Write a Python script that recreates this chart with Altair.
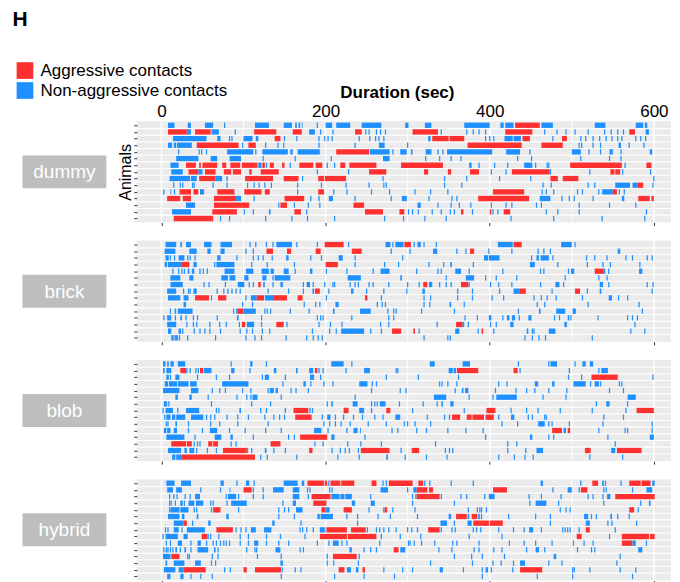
import altair as alt
import pandas as pd

RED = "#FF3030"
BLUE = "#1E90FF"
KIND_NAMES = ["Aggressive contacts", "Non-aggressive contacts"]
KINDS = {"r": KIND_NAMES[0], "b": KIND_NAMES[1]}
PANELS = ["dummy", "brick", "blob", "hybrid"]
X_TICKS = [0, 200, 400, 600]
X_MAJOR = [0, 200, 400, 600]
X_MINOR = [100, 300, 500]

# each string = one animal (top to bottom); token = kind + start-end (sec), single number = brief contact
dummy = [
    "b8-16 b32-36 b53-63 b77 b114-131 b149-159 b163-165 b167-169 b171-172 b190 b200-208 b213-230 b244-268 b297-301 b321-329 b369-400 b413-417 b419-429 r431-461 b463-477 b528-541 b578-587 b589-592",
    "r8-31 b31-36 r41-60 b61-70 b90 r113-140 r160-171 b180-187 b194 b209 r236-244 b249 b253 b262 b267 b273 r306-337 b341 b372 b380 b387 b395 r419-452 b467 b482 b493 b504 b520 b540 b548 b556 b563 r570-577 b590-594",
    "b14-55 b68-72 b83 b86 b100-111 b115-118 r138-145 b150 b165 b192 b199 b203 b208 b241 b254 b261 b265 b271 b325-328 r330-350 r351-369 b395 b400 b405 b418-428 b429-438 r440-449 b477 r488-494 b511 b517 b526 b534 b542 b549 b556 b561 b578 b584 b590",
    "b8-13 b15-18 b19-37 r43-94 b99 r106-115 b127 b142 b149 b192 b236 b265-272 b300 r373-439 r463-489 b509 b512 b526 b535 b557-560 b570 b588",
    "b21 b46 b49 b55 b80-112 b115 b123-154 b157-160 b166-193 r213-253 b254-278 b282 b291-299 b304-306 b322-329 b337 b343 b348-403 b420-437 b449 b500-511 b521 b535 b546-550 b560 b595-598",
    "b18-45 b60-68 b83-97 b124 b163 b207 b270-278 b322 b339 b353 b365 b434 b451 b511 b546 b560",
    "b11-21 r30-42 r46-48 r50-68 r74-79 r84-96 r98-113 r113-117 b118-122 r123-126 b128 r132-137 r147-150 b157 r168-185 r188-196 b202 b211 r218-224 r229-262 r292-343 b375-378 b387 b406 b422 b442-452 b456 b470 b472 r498-561 b565 r591-597",
    "b12-26 r33-45 b45-50 r53-66 r76-85 r87-97 r107-110 r121-143 b190 b228 r253-274 r320-325 r349-353 r376-387 b402 b420 r427-473 b474 b522 r547-552 r553-559 b562 b596",
    "b10-35 b36-43 r46-66 b66-74 b80 r102-136 r149-167 b172 r191-198 r199-225 b270 b345 b372 b412 b450 r474-483 r489-508 b600",
    "b15 b23 b26 b38 b40 b63 b80 b105 b113 b119 b126 b134 b166 b195 b225 b253 b271 b274 b345 b366 b465 b475 b520 b528 b553-571 b574-580 r580-587 b599",
    "b3 b11-12 b16 r22-36 r39-45 b47-52 r68-89 r101-122 r126-132 b166 r191-198 b210 b226 b256 b278 b309 b328 b349 r404-442 b464 b469 b478 b507 b513 b533 b537-550 r550-555 b558 b564",
    "r7-23 r26-36 r64-91 b91-97 b113 r150-174 b182 b192 b204-209 b236 b280 b293-299 b326 b354 b360 r386-448 b461-474 b488 b497 b503 b526 b561-564 r581-595 r597-600",
    "b30-41 r64-98 r98-107 b143 r145-153 b162 b179 b193 r234-247 b312-316 b337 b353 b363 b377 b402 b420 b427 b457 b463 b509 b546 b578",
    "b13-36 r62-92 b101 b112 b131-133 r162-170 b177 r248-270 r290-296 b301 b306 b313 b330 b341 b352 b357 r365-368 b379 r400-402 b404 b410 r417-425 b469 b483 b509 b591",
    "r15-63 b72 b83 b127 b159 b178 b211 b272 b295 b321 b347 b426 b478 b537 b589",
]
brick = [
    "b5-18 b23-25 b30-36 b52-61 b72-86 b108 b115 b128 b136 b140-159 b165 b190 r199-222 b228 b273-279 b282 b285-295 r296-304 b308 b312-316 b320 b335 b410-428 r429-439 b487-500 b504",
    "b4-17 b34-43 b56-60 b72-77 b103 b112 r128-136 r153-158 r188-194 r232-244 b280 b303 b331-336 b360 b371 r376-381 b399 b427 b459 b466 b474 b556-559",
    "b5-9 b11 b16 b21-28 b32 b35 b41 b68-72 b92 b112 b118 b124 b135 b152-155 b182 b195 b216-221 b236 b294 b393-398 b399-412 b451 b457-460 b462-472 b477 b518 b528 b543 b566 b574 b592 b598",
    "b4-7 b8-25 r25-34 b39-43 b65 b67-89 b110 b129 b162 r200-215 b236 b272 b289 b326 b344 b352-354 b380 b449-455 b483 b519 b538 b547 b583",
    "b14 b21 b25 b28 b32-34 b37-40 b47 b51 b56 b77-89 b103-112 b122-131 b133-137 b149-155 b163 b181-184 b201 b226 b258 b267-278 b311 b337 b341 b358-365 b375 b416 b462 b466 b496 b499-503 r528-539 b540 b545 b582-586",
    "b11-23 b34-39 b73-81 b83-90 b101-106 b123-128 b136 b138-157 b227-243 b291-293 b347 b371-381 b395 b408 b433 b492 b533 b543",
    "b11-26 b52 b58 b78 b93-101 b107 b112 r118-121 b124-126 b136 b145-148 b173 b177-181 b185 b199 b209 b211 b230 b236 b240 b253 b258 b277 b300 b314 r319-324 b326-330 b339 b347 b353 r365-374 b375 b401 b411 b427 b462 b480-485 b490 b534-538 b545 b592 b599",
    "b7-18 b27 b33 b35 b39-43 b68 b76 b81 b86 b91 b96 b130 b155 b173 b184-186 r187-193 b204 b231-234 b250 b271 b299 b318-321 b361 b379 b412 b429-436 r436-444 b476 r504-510 b519 b534-536 b598",
    "b8-23 b27-33 r41-58 b61 r69-79 b103 b109-116 r116-125 b126-136 r136-153 r166-172 b201 r248-251 b268 b320 b328 b361 b379 b403 b417 b454 b463 b470 b481 b513 b545-549 b557 b568",
    "b27-30 b99 b111 b174 b188 b193 b212-216 b263 b269 b273 b320 b327 b351-353 b369 b458 b467 b520 b582",
    "b11 b16-18 b20-38 b88 b91-93 r93-100 b100-115 b126 b129 b133 b157 b180 b209-211 b242-255 b276 b283 b286 b317 b357 b435 b460-462 b481-492 b501-505 b586",
    "b3 b7-12 b17 b23-25 b30 b39 b44 b68 b92-94 b122 b190 b194 b197 b232 b277 b283 b370 b385 b399-402 b416 b421-424 b427-431 b436 b447-451 b479 b485 b495-497 b499 b532 b568 b574 b580",
    "b7-18 b31 b39 b43 b59 b71 b79 b95 r98-102 b104-113 b122 r140-149 b153 b192 b206 b220 b267 b277 b336 r359-367 b367-369 b374 b401 b408 b425-429 b491-494 b577",
    "b8-12 b21-24 b26 b40 b47 b53 b59 b72 b96 b104 b111 b123 b132 b184 b205 b213 b219-247 b255 b268 r281-292 r307-309 b314 b358-363 b386 r390-392 b405 b445-447 b452 b454 b472-480 b572 b589",
    "b12-15 b16-20 b22 b32 b66 b103 b114 b122 b152 b177 b185 b191 b196 b320 b349 b352 b443 b452 b460 b468 b525",
]
blob = [
    "b2-5 b7-9 b11-15 b20-29 b85 b108-111 b128 b207-222 b232 b327-333 b367-376 b435 b472 b474-482 b504 b513-517 b522-526",
    "b2-4 b6-12 r23-30 b31 b35 b42 b45 r47-51 b52-61 b85-89 b108 b137-140 b164-166 b180-185 r187-190 b192 b197 b225 b247-254 b286 b288 b350-355 b356-359 r360-386 r429-434 b437 b497 b533 b536-544",
    "b6-9 b11 b17-22 b44 b67 b83 b123 b126-131 b151 b181-186 b194 b274 b313 b362 b496 b512 r524-556 b599",
    "b4-8 b9-19 b20-33 b35-43 b74-106 b148 b173-176 b182 b198 b209 b241-251 b257 b262 b339 b342 b349 b360 b411 b421 b455-459 b476-479 b502-517 b523 b528-533 b535 b558 b561",
    "b2-22 b36-45 b62 b71 b78 b99 b109 b130 b132-137 b139-142 b158 b164 b179 b256 b291 b298 b358 b366-368 b370-374 b407 b432 b445 b455 b472 b494 b546 b563",
    "b17-20 b34-37 b57 b92 b104 b109 b111-117 b146 b236 b332-347 b375 b404 b408-433 b465 b493 b568-578",
    "b3-7 b9 b61 b110 b133 b202 b207-209 b233-239 b256 b260 b263 b266-273 b290 b319 b336 b341-343 b352-356 b530 b542-546 b568",
    "b2 b5-14 b20 b30-46 b67 b70 b95-97 b121 b128 b151 r161-179 b181 b184 r222-228 b241-247 b256 r274-279 b306 b369 r396-407 b426 b445 b459 b486 b525 b566 r579-600",
    "b4 b6-11 b13-17 b18-29 b36-51 b55 b60 b65 b80 b93 b106 b126 b137 b144 b150 r163-183 b196 b202-206 b212 b222 b234 b245 b260 b270 b285-291 b324 b345 b351 r354-364 r372-378 r379-393 r395-405 b411 b426-430 b447 b452 b467 b469 b539 b563",
    "b6 b8 b17-19 b33 b60 b71 b93 b130 b198 b205 b212 b219 b230 b252 b274 b296 b300 b309 b328 b415 b434 b459-467 b472 b476 b497 b538 b598",
    "b3-6 b7-11 b15-19 b33 b50 b59-68 b83 b102 b127 b146 b186-195 b203 b226 b234-239 b242-243 b281 b288 b311 b323 b349 b371 b392 r476-488 b490-493 r495-498 b533 b565 b568 b598",
    "b6-28 b41 b65-73 b84-87 b112 b155 b162 r169-202 b207-211 b248 b395 b449-452 b472 b478 b544 b595-600",
    "r12-30 r31-37 b40 b44 b47 r57-62 r63-69 b85 b91 r133-145 b187 b197 b227 b243 b268 b334 b422 b433 b553",
    "b8-24 b28-31 b34-40 b43 b56 b67 r75-104 b105 b110 b126-128 b137 b151 r180-184 b208 b218 b224 b229 b240 r243-278 b292 r305-314 b346 b351 b355 b422 b444 b457-465 r516-523 b548-553 r555-585",
    "b13-17 b18-25 r25-114 b121 b129 b165 b215 b241 b274-276 b297 b323 b348 b411 b430 b443 b453 b522 b562",
]
hybrid = [
    "b6-16 b24-36 b72-76 b92 b103-107 b113 b149-166 b171-174 r178-198 r199-202 b204 r206-218 r219-235 r256-262 b270 b274 r277-306 r313-319 b321 b327 b353 b380 b462-465 b511 r525-532 b537-539 b541 b560 r570-584 r585-596 b598-601",
    "b7-14 b18-25 b48 b72 b83-84 r100-110 b112 b124 b136-149 b160-168 b178 b181 b205 b208 b267-276 b300 b307-311 r311-324 r326-331 r404-421 b477 b495-500 b509 r511-519 b539 b542 b574 b591-598",
    "b10 b15 b19 b29 b35 b41-47 b79 b81-91 b94 b112 b124 b160-168 b179 r183-206 b207-217 b218-223 b224-232 b255 b306 b310 r311-339 b341 b365 b372 b394 b399-406 b448 b463 b487 b520 b526 b538 b543-547 r553-601",
    "b10 b12 b17 b23-26 b28 b33-40 b42-51 b60 b63 b80 b85-104 b148 b160-164 r185-201 b232-236 b255-260 b306 b357 b449 b456-469 b484 b539 b584 b594-596",
    "b10 b11-22 b23-33 b40 b43 b61 r63-72 b94 b143 b150 b155 b164-172 r195-200 b200-205 r222-232 b253 b271 r272-275 b282 b309 b374 b385 b388 b390 b396 b486 b493 b498 r570-576 b581",
    "b8-22 b25-28 b43-45 b79-82 b143 b162 b190-193 b194-209 b226 b239 b264 b279 b312 b350-353 r359-372 b373-375 r378-385 b386-388 b390 b423 b456 b474 b515-520 b524 b530 b547-549 b556 b570",
    "b15-27 r27-31 b38 b57-60 b135-138 b170 b239 b340-348 b357 b373-378 r380-399 r400-416 b474 b517-522 b544 b549 b579",
    "b5 b8 b15-21 b25 b31-53 r67-87 b91 b97 b103 b109-115 b125-134 b169 b172 b177 b185 b193-198 b199 r201-226 r231-249 b251 b262 b266 b271 b277 b286 b300 b305 b312 r325-339 b341 b354 b358 b380 b384 b389 b411 b429 b442 b448-453 b463 b489 b492 b495 b498 b509 r517-522 b553",
    "b2 b5-20 b27-32 r49-56 b57 b60 b70 b96 b106 b128 b145 b175 r193-226 r227-262 b268 b291 b316 b375 b415 r506-512 b546 r561-594 r595-601",
    "b6 b11 b20-25 b36 b44-48 b55 b63 b67 b72 b76 b79 b83 b96 b106 b113-118 b128 b143 b155 b190 b204 b209-216 b220 b226 b266 b301 b303 b308 b317 b333 b355 b360 b387 b424 b442 b456 b476 b502 b515 b526 r561-574 b574-578 b591",
    "b3 b6 b8 b11 b14 b17-19 b23 b28-30 b36 b44-57 b64-66 b69 b104 b114 b116 b139-145 b169 b173 b229-232 b247 b255 b262 r283-289 b291-297 b338 b354 b381 b387 b405 b415 b445 b456-460 b467 b507 b524 b528 b581-586",
    "b2-11 r12-22 b32 b34 b62 b69 b117 b146 b202 r209-238 b241 b357 b378 b391 b418 b478-481 b559",
    "b5-7 b15-28 b41-48 b61 b66 b145-148 b202 b210 b240 b328 b379 b404 b414 b429 b437-443 b472 b488 b555",
    "b3-17 b21-27 r27-54 b77 b84 r100-104 r114-146 b147-148 b163 b170 r216-223 b226-231 b237-240 r245-248 b271 b294 b306 b339-343 b368 b391 b395-398 b402 b428 r437-464 b501 b503 b522 b559 b578",
    "b7-11 b23-27 b36 b48 b62 b146 b211 b247 b284 b391 b458 b501 b574",
]
PANEL_ROWS = {"dummy": dummy, "brick": brick, "blob": blob, "hybrid": hybrid}

N_ROWS = 15
ROW_PX = 6.67
PANEL_H = (N_ROWS + 0.2) * ROW_PX
PANEL_W = 535
X_DOMAIN = [-30, 620.9]


def parse(rows):
    recs = []
    for i, s in enumerate(rows, start=1):
        for tok in s.split():
            kind = KINDS[tok[0]]
            parts = tok[1:].split("-")
            if len(parts) == 2:
                a, b = float(parts[0]), float(parts[1])
            else:
                a = float(parts[0]) - 0.75
                b = a + 1.5
            recs.append({"row": i, "start": a, "end": b, "kind": kind,
                         "y0": i - 0.4, "y1": i + 0.4})
    return pd.DataFrame(recs)


def make_panel(name, first):
    d = parse(PANEL_ROWS[name])
    xs = alt.Scale(domain=X_DOMAIN, nice=False, zero=False)
    ys = alt.Scale(domain=[0.4, N_ROWS + 0.6], nice=False, zero=False, reverse=True)

    bottom_axis = alt.Axis(orient="bottom", values=X_TICKS, labels=False, ticks=True,
                           tickSize=3, tickColor="#333333", tickWidth=1, domain=False,
                           grid=False, title=None)
    yaxis = alt.Axis(values=list(range(1, N_ROWS + 1)), labels=False, ticks=True,
                     tickSize=3, tickColor="#333333", tickWidth=1, domain=False, grid=False,
                     title="Animals" if first else None, titleFontSize=16,
                     titleFontWeight="normal", titleColor="black", titlePadding=0)

    grid_df = pd.DataFrame({"g": X_MAJOR + X_MINOR,
                            "w": [1.4] * len(X_MAJOR) + [0.9] * len(X_MINOR)})
    vgrid = alt.Chart(grid_df).mark_rule(color="white").encode(
        x=alt.X("g:Q", scale=xs, axis=bottom_axis),
        strokeWidth=alt.StrokeWidth("w:Q", scale=None),
    )
    hgrid = alt.Chart(pd.DataFrame({"h": [k + 0.5 for k in range(1, N_ROWS)]})).mark_rule(
        color="white", strokeWidth=1.1).encode(
        y=alt.Y("h:Q", scale=ys, axis=yaxis),
    )

    if first:
        top_axis = alt.Axis(orient="top", values=X_TICKS, ticks=False, tickSize=0,
                            labelPadding=5, labelFontSize=17, labelColor="black",
                            labelBaseline="alphabetic", domain=False, grid=False,
                            title="Duration (sec)", titleFontSize=17, titleFontWeight="bold",
                            titleColor="black", titleX=260.5, titleY=-23.5,
                            titleBaseline="alphabetic")
        legend = alt.Legend(orient="none", legendX=-120.5, legendY=-59.3, title=None,
                            symbolType="square", symbolSize=279, symbolStrokeWidth=0,
                            labelFontSize=17, labelColor="black", labelOffset=7,
                            labelLimit=0, rowPadding=2, padding=0, symbolOpacity=1)
    else:
        top_axis = None
        legend = None

    bars = alt.Chart(d).mark_rect().encode(
        x=alt.X("start:Q", scale=xs, axis=top_axis),
        x2="end:Q",
        y=alt.Y("y0:Q", scale=ys, axis=None),
        y2="y1:Q",
        color=alt.Color("kind:N", scale=alt.Scale(domain=KIND_NAMES, range=[RED, BLUE]),
                        legend=legend),
    )

    lab = pd.DataFrame({"label": [name]})
    box = alt.Chart(lab).mark_rect(color="#BEBEBE").encode(
        x=alt.value(-114.5), x2=alt.value(-30.5),
        y=alt.value(PANEL_H / 2 - 16.5), y2=alt.value(PANEL_H / 2 + 16.5),
    )
    txt = alt.Chart(lab).mark_text(color="white", fontSize=19, align="center",
                                   baseline="middle").encode(
        text="label:N", x=alt.value(-72.5), y=alt.value(PANEL_H / 2 + 0.5),
    )
    anchor = alt.Chart(lab).mark_rule(strokeOpacity=0).encode(
        x=alt.value(-124.5), x2=alt.value(-124), y=alt.value(PANEL_H / 2),
    )
    layers = [vgrid, hgrid, bars, box, txt, anchor]
    if first:
        head = alt.Chart(pd.DataFrame({"t": ["H"]})).mark_text(
            fontSize=21, fontWeight="bold", align="left", baseline="top", color="black"
        ).encode(text="t:N", x=alt.value(-124.5), y=alt.value(-112.3))
        layers.append(head)
    return alt.layer(*layers).resolve_axis(x="independent", y="independent").properties(
        width=PANEL_W, height=PANEL_H)


chart = alt.vconcat(*[make_panel(p, i == 0) for i, p in enumerate(PANELS)], spacing=13.5
                    ).resolve_scale(color="independent").properties(
    padding={"left": 4, "top": 0, "right": 0, "bottom": 0}
).configure(font="Liberation Sans").configure_view(fill="#EBEBEB", strokeWidth=0)

chart.save("out.html", embed_options={"renderer": "svg", "actions": False})
